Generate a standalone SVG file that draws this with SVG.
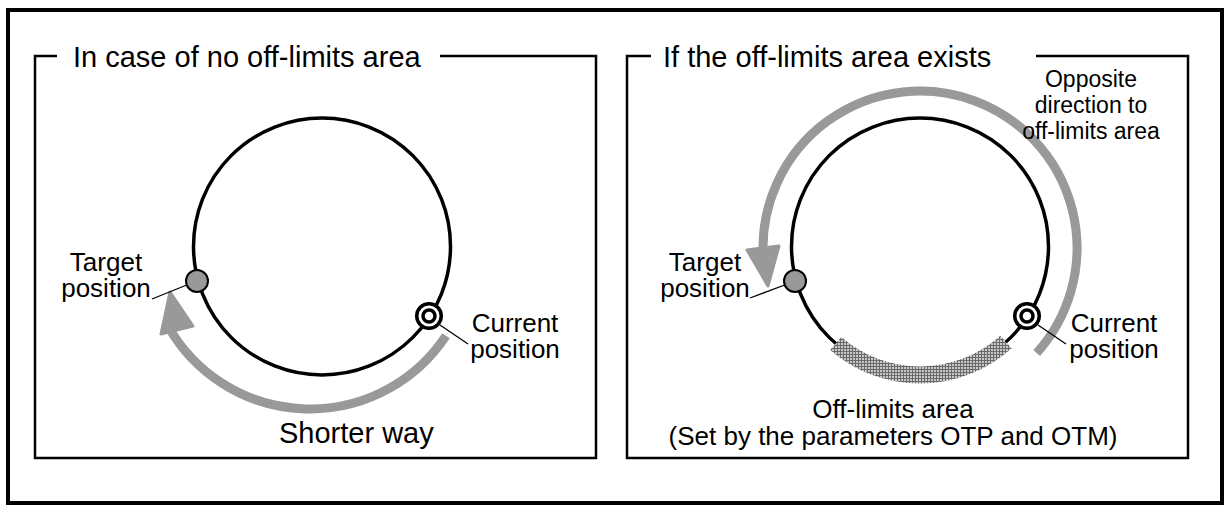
<svg xmlns="http://www.w3.org/2000/svg" width="1227" height="507" viewBox="0 0 1227 507">
<style>
.frame{fill:none;stroke:#000;stroke-width:4}
.panel{fill:none;stroke:#000;stroke-width:2.5}
.ring{fill:none;stroke:#000;stroke-width:3.5}
.way{fill:none;stroke:#999;stroke-width:9}
.head{fill:#999;stroke:#999;stroke-width:3;stroke-linejoin:round}
.tgt{fill:#999;stroke:#000;stroke-width:2}
.cur{fill:#fff;stroke:#000;stroke-width:3.5}
.lead{stroke:#000;stroke-width:1.3;fill:none}
text{font-family:"Liberation Sans",Arial,sans-serif;fill:#000}
.title{font-size:29px}
.lbl{font-size:26px;text-anchor:middle}
.sm{font-size:23px;text-anchor:middle}
</style>
<defs>
<pattern id="hatch" width="3" height="3" patternUnits="userSpaceOnUse">
<rect width="3" height="3" fill="#c8c8c8"/>
<rect width="3" height="1" fill="#6a6a6a"/>
<rect width="1" height="3" fill="#6a6a6a"/>
</pattern>
</defs>
<rect class="frame" x="8" y="10" width="1214" height="493"/>

<g id="panel-left">
<path class="panel" d="M57,56 H35 V458 H596 V56 H440"/>
<text class="title" x="73" y="67">In case of no off-limits area</text>
<circle class="ring" cx="322" cy="246.5" r="128.5"/>
</g>

<g id="panel-right">
<path class="panel" d="M651,56 H627 V458 H1188 V56 H1036"/>
<text class="title" x="663" y="67">If the off-limits area exists</text>
<circle class="ring" cx="920" cy="246.5" r="128.5"/>
</g>

<g id="offlimits">
<path d="M1006,342 A128.5,128.5 0 0 1 835.7,343.5" fill="none" stroke="url(#hatch)" stroke-width="17"/>
<text class="lbl" x="893" y="418">Off-limits area</text>
<text class="lbl" x="893" y="445">(Set by the parameters OTP and OTM)</text>
</g>

<g id="connectors">
<path class="way" d="M446,335.7 A163,163 0 0 1 168.8,327.5"/>
<polygon class="head" points="170,292 161,334 193,326"/>
<path class="way" d="M1036.7,353 A157,157 0 1 0 763.1,253.5"/>
<polygon class="head" points="768,286 747,250 779,246"/>
<line class="lead" x1="188" y1="284.5" x2="152" y2="299"/>
<line class="lead" x1="440" y1="325" x2="468" y2="344"/>
<line class="lead" x1="786" y1="284.5" x2="750" y2="298"/>
<line class="lead" x1="1038" y1="325" x2="1066" y2="344"/>
</g>

<g id="target-left">
<circle class="tgt" cx="197" cy="281" r="11"/>
<text class="lbl" x="106" y="271">Target</text>
<text class="lbl" x="106" y="297">position</text>
</g>
<g id="current-left">
<circle class="cur" cx="429" cy="316" r="12.25"/>
<circle class="cur" cx="429" cy="316" r="6"/>
<text class="lbl" x="515" y="332">Current</text>
<text class="lbl" x="515" y="358">position</text>
</g>
<g id="shorter-label">
<text x="279" y="443" style="font-size:29px">Shorter way</text>
</g>

<g id="target-right">
<circle class="tgt" cx="795" cy="281" r="11"/>
<text class="lbl" x="705" y="271">Target</text>
<text class="lbl" x="705" y="297">position</text>
</g>
<g id="current-right">
<circle class="cur" cx="1027" cy="316" r="12.25"/>
<circle class="cur" cx="1027" cy="316" r="6"/>
<text class="lbl" x="1114" y="332">Current</text>
<text class="lbl" x="1114" y="358">position</text>
</g>
<g id="opposite-label">
<text class="sm" x="1091" y="87">Opposite</text>
<text class="sm" x="1091" y="113">direction to</text>
<text class="sm" x="1091" y="139">off-limits area</text>
</g>
</svg>
